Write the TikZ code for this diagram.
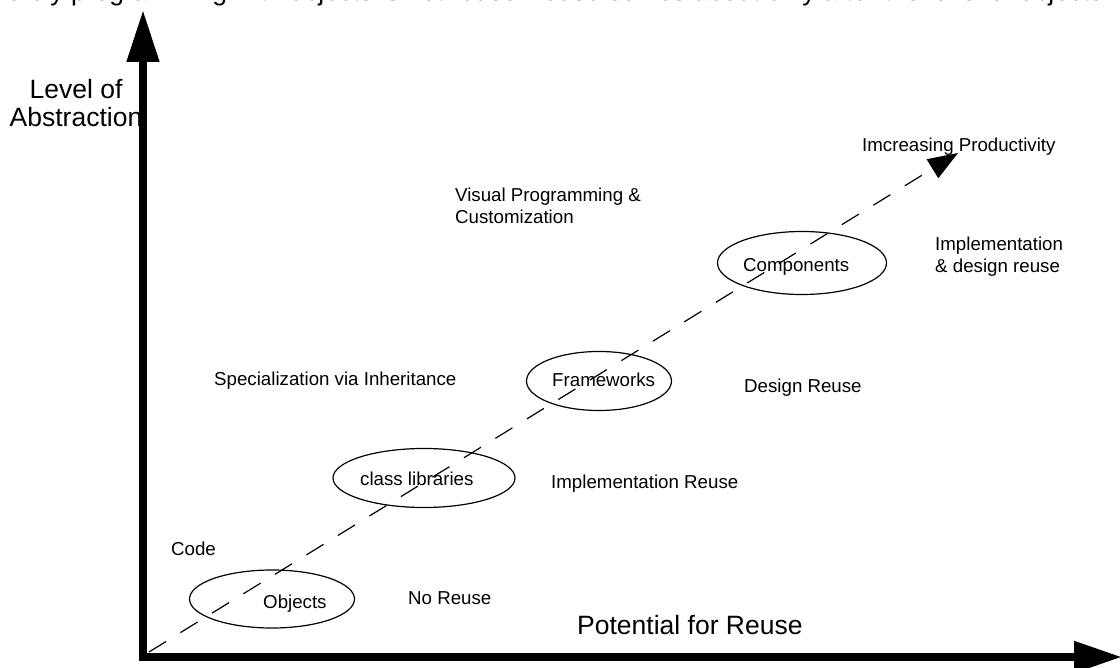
\documentclass[tikz,border=0pt]{standalone}
\usepackage{fontspec}
\setmainfont{Liberation Sans}
\usetikzlibrary{arrows.meta,shapes.geometric}
\begin{document}
\begin{tikzpicture}[x=1pt,y=-1pt,
  lbl/.style={anchor=base west, inner sep=0pt, align=left,
              font=\fontsize{18.7}{22}\selectfont},
  big/.style={inner sep=0pt, font=\fontsize{26.5}{28}\selectfont},
  ell/.style={draw, ellipse, line width=1.2pt, inner sep=0pt},
  axis/.style={line width=8pt, line join=miter},
  trend/.style={line width=1.2pt, dash pattern=on 20pt off 17pt},
]
\useasboundingbox (0,0) rectangle (1120,668);

% heading line that runs off the top edge
\begin{scope}
  \clip (0,0) rectangle (1120,668);
  \node[big, anchor=base west] (heading) at (-16,0.8)
    {Merely programming with objects is not reuse: reuse comes about only after the level of objects};
\end{scope}

% axes
\coordinate (ytip) at (143,10);
\coordinate (origin) at (143,657);
\coordinate (xtip) at (1122,657);
\draw[axis, {Triangle[length=52pt,width=31pt]}-{Triangle[length=48pt,width=30pt]}]
  (ytip) -- (origin) -- (xtip);

% ellipses
\node[ell, minimum width=165pt, minimum height=58pt] (objE) at (272,599) {};
\node[ell, minimum width=182pt, minimum height=59pt] (libE) at (424,478) {};
\node[ell, minimum width=145pt, minimum height=59pt] (fwE)  at (599,381) {};
\node[ell, minimum width=169pt, minimum height=63pt] (cmpE) at (802,263) {};

% productivity trend
\coordinate (trendStart) at (149,652);
\coordinate (trendTip) at (958,153);
\draw[trend, -{Triangle[length=30pt,width=22pt]}] (trendStart) -- (trendTip);

% ellipse labels
\node[lbl] (objT) at (263,608) {Objects};
\node[lbl] (libT) at (360,485) {class libraries};
\node[lbl] (fwT)  at (552,387) {Frameworks};
\node[lbl] (cmpT) at (743,272) {Components};

% side labels
\node[lbl] (prod)  at (862,152) {Imcreasing Productivity};
\node[lbl] (vis)   at (455,224) {Visual Programming \&\\Customization};
\node[lbl] (impdes) at (935,273) {Implementation\\\& design reuse};
\node[lbl] (spec)  at (214,386) {Specialization via Inheritance};
\node[lbl] (desR)  at (744,392) {Design Reuse};
\node[lbl] (impR)  at (551,488) {Implementation Reuse};
\node[lbl] (code)  at (171,555) {Code};
\node[lbl] (noR)   at (408,604) {No Reuse};

% axis titles
\node[big, anchor=base west] (xlab) at (577,634) {Potential for Reuse};
\node[big, anchor=base, align=center] (ylab) at (76,127) {Level of\\Abstraction};
\end{tikzpicture}
\end{document}
